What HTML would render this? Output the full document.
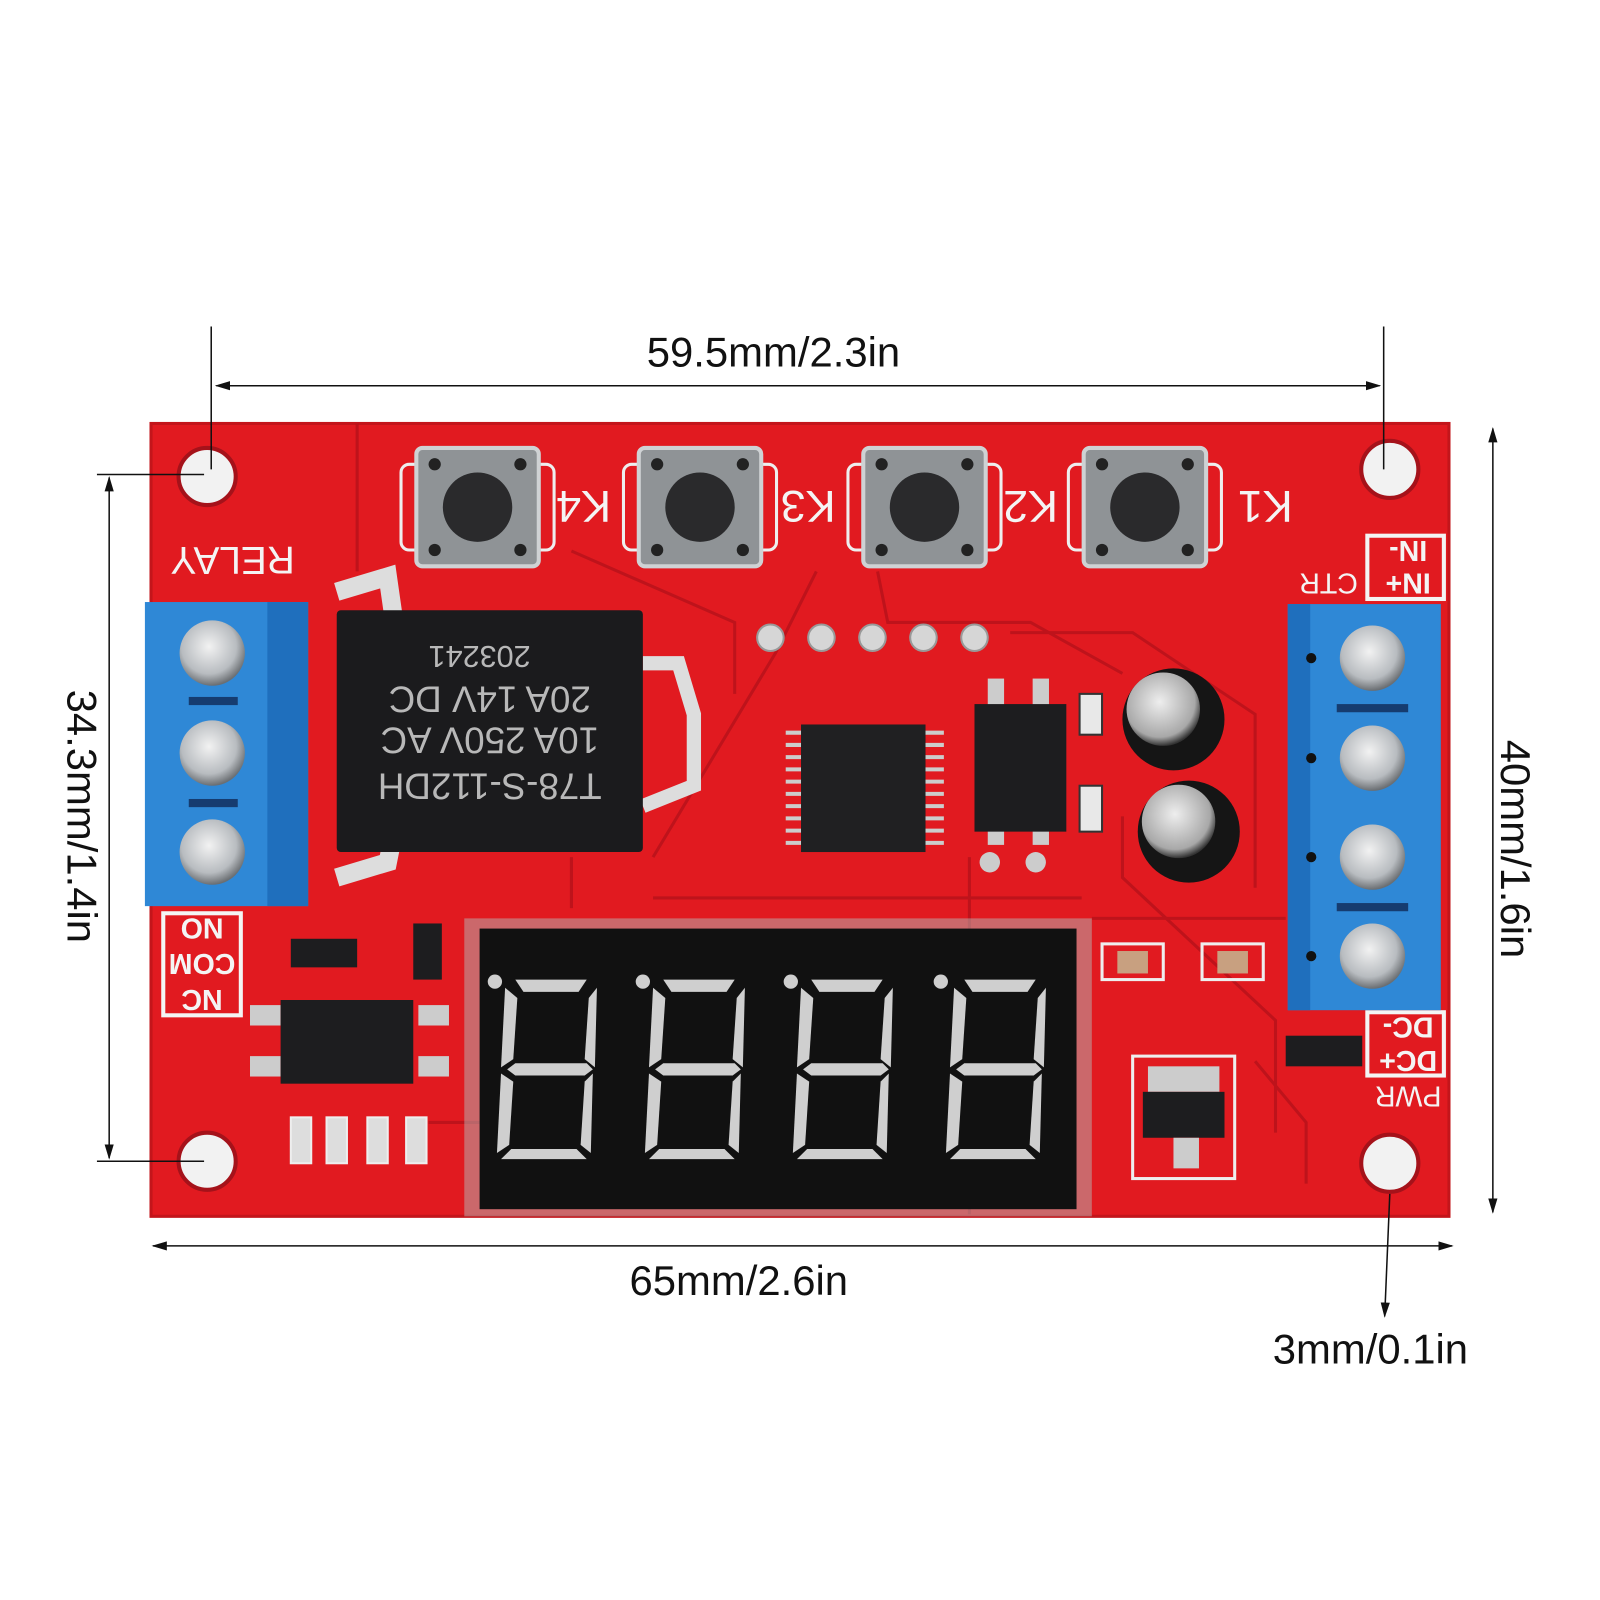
<!DOCTYPE html>
<html><head><meta charset="utf-8"><style>
html,body{margin:0;padding:0;background:#fff;}
svg{display:block}
text{font-family:"Liberation Sans","DejaVu Sans",sans-serif;}
</style></head><body>
<svg width="1600" height="1600" viewBox="0 0 1568 1568" xmlns="http://www.w3.org/2000/svg">
<defs>
<marker id="ar" markerWidth="10" markerHeight="10" refX="9" refY="5" orient="auto-start-reverse"><path d="M0,2 L10,5 L0,8 Z" fill="#111"/></marker>
<radialGradient id="scr" cx="0.45" cy="0.4" r="0.6"><stop offset="0" stop-color="#f2f2f2"/><stop offset="0.7" stop-color="#b8bcc0"/><stop offset="1" stop-color="#6a6e72"/></radialGradient>
<radialGradient id="cap" cx="0.45" cy="0.4" r="0.6"><stop offset="0" stop-color="#eeeeee"/><stop offset="0.8" stop-color="#a8a8a8"/><stop offset="1" stop-color="#333"/></radialGradient>
</defs>
<rect width="1568" height="1568" fill="#fff"/>
<rect x="148" y="415" width="1272" height="777" fill="#e11a20"/>
<rect x="148" y="415" width="1272" height="777" fill="none" stroke="#c3151b" stroke-width="3"/>
<g stroke="#b5121a" stroke-width="3" fill="none" opacity="0.8">
<path d="M350,415 L350,560 M560,540 L720,610 L720,680 M800,560 L760,640 L700,740 L640,840 M860,560 L870,610 L1010,610 L1100,660 M990,620 L1110,620 L1230,700 L1230,870 M1100,800 L1100,860 L1250,1000 L1250,1110 M560,840 L560,890 M640,880 L1060,880 M950,840 L950,1190 M1070,900 L1260,900 M1230,1040 L1280,1100 L1280,1160 M420,1100 L470,1100"/>
</g>
<g fill="#f2f2f2" stroke="#a5121a" stroke-width="4">
<circle cx="203" cy="467" r="28"/><circle cx="1362" cy="460" r="28"/>
<circle cx="203" cy="1138" r="28"/><circle cx="1362" cy="1140" r="28"/>
</g>
<g>
<g transform="translate(468,497)"><rect x="-75" y="-42" width="150" height="84" rx="8" fill="none" stroke="#eee" stroke-width="3"/><rect x="-60" y="-58" width="120" height="116" rx="6" fill="#8f9396" stroke="#cfd2d4" stroke-width="4"/><circle r="34" fill="#2a2a2c"/><circle cx="-42" cy="-42" r="6" fill="#222"/><circle cx="42" cy="-42" r="6" fill="#222"/><circle cx="-42" cy="42" r="6" fill="#222"/><circle cx="42" cy="42" r="6" fill="#222"/></g>
<g transform="translate(686,497)"><rect x="-75" y="-42" width="150" height="84" rx="8" fill="none" stroke="#eee" stroke-width="3"/><rect x="-60" y="-58" width="120" height="116" rx="6" fill="#8f9396" stroke="#cfd2d4" stroke-width="4"/><circle r="34" fill="#2a2a2c"/><circle cx="-42" cy="-42" r="6" fill="#222"/><circle cx="42" cy="-42" r="6" fill="#222"/><circle cx="-42" cy="42" r="6" fill="#222"/><circle cx="42" cy="42" r="6" fill="#222"/></g>
<g transform="translate(906,497)"><rect x="-75" y="-42" width="150" height="84" rx="8" fill="none" stroke="#eee" stroke-width="3"/><rect x="-60" y="-58" width="120" height="116" rx="6" fill="#8f9396" stroke="#cfd2d4" stroke-width="4"/><circle r="34" fill="#2a2a2c"/><circle cx="-42" cy="-42" r="6" fill="#222"/><circle cx="42" cy="-42" r="6" fill="#222"/><circle cx="-42" cy="42" r="6" fill="#222"/><circle cx="42" cy="42" r="6" fill="#222"/></g>
<g transform="translate(1122,497)"><rect x="-75" y="-42" width="150" height="84" rx="8" fill="none" stroke="#eee" stroke-width="3"/><rect x="-60" y="-58" width="120" height="116" rx="6" fill="#8f9396" stroke="#cfd2d4" stroke-width="4"/><circle r="34" fill="#2a2a2c"/><circle cx="-42" cy="-42" r="6" fill="#222"/><circle cx="42" cy="-42" r="6" fill="#222"/><circle cx="-42" cy="42" r="6" fill="#222"/><circle cx="42" cy="42" r="6" fill="#222"/></g>
</g>
<g fill="#f4f4f4" font-size="44" text-anchor="middle">
<text transform="translate(572,497) rotate(180)" dy="16">K4</text>
<text transform="translate(792,497) rotate(180)" dy="16">K3</text>
<text transform="translate(1010,497) rotate(180)" dy="16">K2</text>
<text transform="translate(1240,497) rotate(180)" dy="16">K1</text>
<text transform="translate(228,550) rotate(180)" dy="14" font-size="38">RELAY</text>
<text transform="translate(1302,572) rotate(180)" dy="10" font-size="28">CTR</text>
<text transform="translate(1380,572) rotate(180)" dy="10" font-size="28" font-weight="bold">IN+</text>
<text transform="translate(1380,540) rotate(180)" dy="10" font-size="28" font-weight="bold">IN-</text>
<text transform="translate(1380,1007) rotate(180)" dy="10" font-size="28" font-weight="bold">DC-</text>
<text transform="translate(1380,1040) rotate(180)" dy="10" font-size="28" font-weight="bold">DC+</text>
<text transform="translate(1380,1075) rotate(180)" dy="10" font-size="28">PWR</text>
<text transform="translate(198,910) rotate(180)" dy="10" font-size="28" font-weight="bold">NO</text>
<text transform="translate(198,945) rotate(180)" dy="10" font-size="28" font-weight="bold">COM</text>
<text transform="translate(198,980) rotate(180)" dy="10" font-size="28" font-weight="bold">NC</text>
</g>
<g fill="none" stroke="#f4f4f4" stroke-width="4">
<rect x="160" y="895" width="76" height="100"/>
<rect x="1340" y="525" width="75" height="62"/>
<rect x="1340" y="992" width="75" height="62"/>
</g>
<path d="M330,580 L380,565 L385,600 M330,860 L380,845 L385,820" stroke="#ddd" stroke-width="18" fill="none"/>
<path d="M630,650 L665,650 L680,700 L680,770 L630,790" stroke="#ddd" stroke-width="14" fill="none"/>
<rect x="330" y="598" width="300" height="237" fill="#1b1b1d" rx="4"/>
<g fill="#b8b8b8" font-size="36" text-anchor="middle">
<text transform="translate(470,625) rotate(180)" dy="-8" font-size="30">203241</text>
<text transform="translate(480,665) rotate(180)" dy="-8">20A  14V  DC</text>
<text transform="translate(480,705) rotate(180)" dy="-8">10A 250V  AC</text>
<text transform="translate(480,750) rotate(180)" dy="-8">T78-S-112DH</text>
</g>
<rect x="142" y="590" width="160" height="298" fill="#2f88d6"/>
<rect x="262" y="590" width="40" height="298" fill="#1f6fbd"/>
<rect x="185" y="683" width="48" height="8" fill="#163c70"/><rect x="185" y="783" width="48" height="8" fill="#163c70"/>
<circle cx="208" cy="640" r="32" fill="url(#scr)"/><circle cx="208" cy="738" r="32" fill="url(#scr)"/><circle cx="208" cy="835" r="32" fill="url(#scr)"/>
<rect x="1262" y="592" width="150" height="398" fill="#2f88d6"/>
<rect x="1262" y="592" width="22" height="398" fill="#1f6fbd"/>
<rect x="1310" y="690" width="70" height="8" fill="#163c70"/><rect x="1310" y="885" width="70" height="8" fill="#163c70"/>
<g fill="#111"><circle cx="1285" cy="645" r="5"/><circle cx="1285" cy="743" r="5"/><circle cx="1285" cy="840" r="5"/><circle cx="1285" cy="937" r="5"/></g>
<circle cx="1345" cy="645" r="32" fill="url(#scr)"/><circle cx="1345" cy="743" r="32" fill="url(#scr)"/><circle cx="1345" cy="840" r="32" fill="url(#scr)"/><circle cx="1345" cy="937" r="32" fill="url(#scr)"/>
<g fill="#d6d6d6" stroke="#999" stroke-width="2"><circle cx="755" cy="625" r="13"/><circle cx="805" cy="625" r="13"/><circle cx="855" cy="625" r="13"/><circle cx="905" cy="625" r="13"/><circle cx="955" cy="625" r="13"/></g>
<g stroke="#ccc" stroke-width="4"><path d="M770,718h20M770,730h20M770,742h20M770,754h20M770,766h20M770,778h20M770,790h20M770,802h20M770,814h20M770,826h20M905,718h20M905,730h20M905,742h20M905,754h20M905,766h20M905,778h20M905,790h20M905,802h20M905,814h20M905,826h20"/></g>
<rect x="785" y="710" width="122" height="125" fill="#202022"/>
<g fill="#ccc"><rect x="968" y="665" width="16" height="28"/><rect x="1012" y="665" width="16" height="28"/><rect x="968" y="800" width="16" height="28"/><rect x="1012" y="800" width="16" height="28"/></g>
<rect x="955" y="690" width="90" height="125" fill="#1d1d1f"/>
<circle cx="970" cy="845" r="10" fill="#ccc"/><circle cx="1015" cy="845" r="10" fill="#ccc"/>
<circle cx="1150" cy="705" r="50" fill="#151515"/><circle cx="1140" cy="695" r="36" fill="url(#cap)"/>
<circle cx="1165" cy="815" r="50" fill="#151515"/><circle cx="1155" cy="805" r="36" fill="url(#cap)"/>
<g fill="#e8e8e8" stroke="#333" stroke-width="2"><rect x="1058" y="680" width="22" height="40"/><rect x="1058" y="770" width="22" height="45"/></g>
<rect x="1080" y="925" width="60" height="35" fill="none" stroke="#eee" stroke-width="3"/><rect x="1095" y="932" width="30" height="22" fill="#c8a080"/>
<rect x="1178" y="925" width="60" height="35" fill="none" stroke="#eee" stroke-width="3"/><rect x="1193" y="932" width="30" height="22" fill="#c8a080"/>
<rect x="1260" y="1015" width="75" height="30" fill="#1d1d1f"/>
<rect x="285" y="920" width="65" height="28" fill="#1d1d1f"/><rect x="405" y="905" width="28" height="55" fill="#1d1d1f"/>
<g fill="#ccc"><rect x="245" y="985" width="30" height="20"/><rect x="245" y="1035" width="30" height="20"/><rect x="410" y="985" width="30" height="20"/><rect x="410" y="1035" width="30" height="20"/></g>
<rect x="275" y="980" width="130" height="82" fill="#1d1d1f"/>
<g fill="#ddd" stroke="#eee" stroke-width="2"><rect x="285" y="1095" width="20" height="45"/><rect x="320" y="1095" width="20" height="45"/><rect x="360" y="1095" width="20" height="45"/><rect x="398" y="1095" width="20" height="45"/></g>
<rect x="1110" y="1035" width="100" height="120" fill="none" stroke="#eee" stroke-width="3"/>
<rect x="1125" y="1045" width="70" height="25" fill="#ccc"/><rect x="1120" y="1070" width="80" height="45" fill="#1d1d1f"/><rect x="1150" y="1115" width="25" height="30" fill="#ccc"/>
<rect x="455" y="900" width="615" height="292" fill="#b5b5b5" opacity="0.5"/>
<rect x="470" y="910" width="585" height="275" fill="#111"/>
<g fill="#cfcfcf">
<g id="d1" transform="translate(495,960)">
<polygon points="10,0 80,0 72,12 18,12"/><polygon points="0,8 12,18 8,78 -4,86"/><polygon points="90,8 82,18 78,78 88,86"/><polygon points="2,88 10,82 80,82 86,88 78,94 10,94"/><polygon points="-4,92 8,100 4,162 -8,170"/><polygon points="86,92 78,100 74,162 84,170"/><polygon points="-4,176 6,166 70,166 80,176"/>
</g>
<use href="#d1" x="145"/><use href="#d1" x="290"/><use href="#d1" x="440"/>
<circle cx="485" cy="962" r="7"/><circle cx="630" cy="962" r="7"/><circle cx="775" cy="962" r="7"/><circle cx="922" cy="962" r="7"/>
</g>
<g stroke="#111" stroke-width="1.5" fill="none">
<line x1="207" y1="320" x2="207" y2="460"/><line x1="1356" y1="320" x2="1356" y2="460"/>
<line x1="212" y1="378" x2="1352" y2="378" marker-start="url(#ar)" marker-end="url(#ar)"/>
<line x1="150" y1="1221" x2="1423" y2="1221" marker-start="url(#ar)" marker-end="url(#ar)"/>
<line x1="95" y1="465" x2="200" y2="465"/><line x1="95" y1="1138" x2="200" y2="1138"/>
<line x1="107" y1="468" x2="107" y2="1135" marker-start="url(#ar)" marker-end="url(#ar)"/>
<line x1="1463" y1="420" x2="1463" y2="1188" marker-start="url(#ar)" marker-end="url(#ar)"/>
<line x1="1362" y1="1170" x2="1357" y2="1290" marker-end="url(#ar)"/>
</g>
<g fill="#111" font-size="41" text-anchor="middle">
<text x="758" y="359">59.5mm/2.3in</text>
<text x="724" y="1269">65mm/2.6in</text>
<text x="1343" y="1336">3mm/0.1in</text>
<text transform="translate(66,800) rotate(90)">34.3mm/1.4in</text>
<text transform="translate(1471,832) rotate(90)">40mm/1.6in</text>
</g>
</svg>
</body></html>
